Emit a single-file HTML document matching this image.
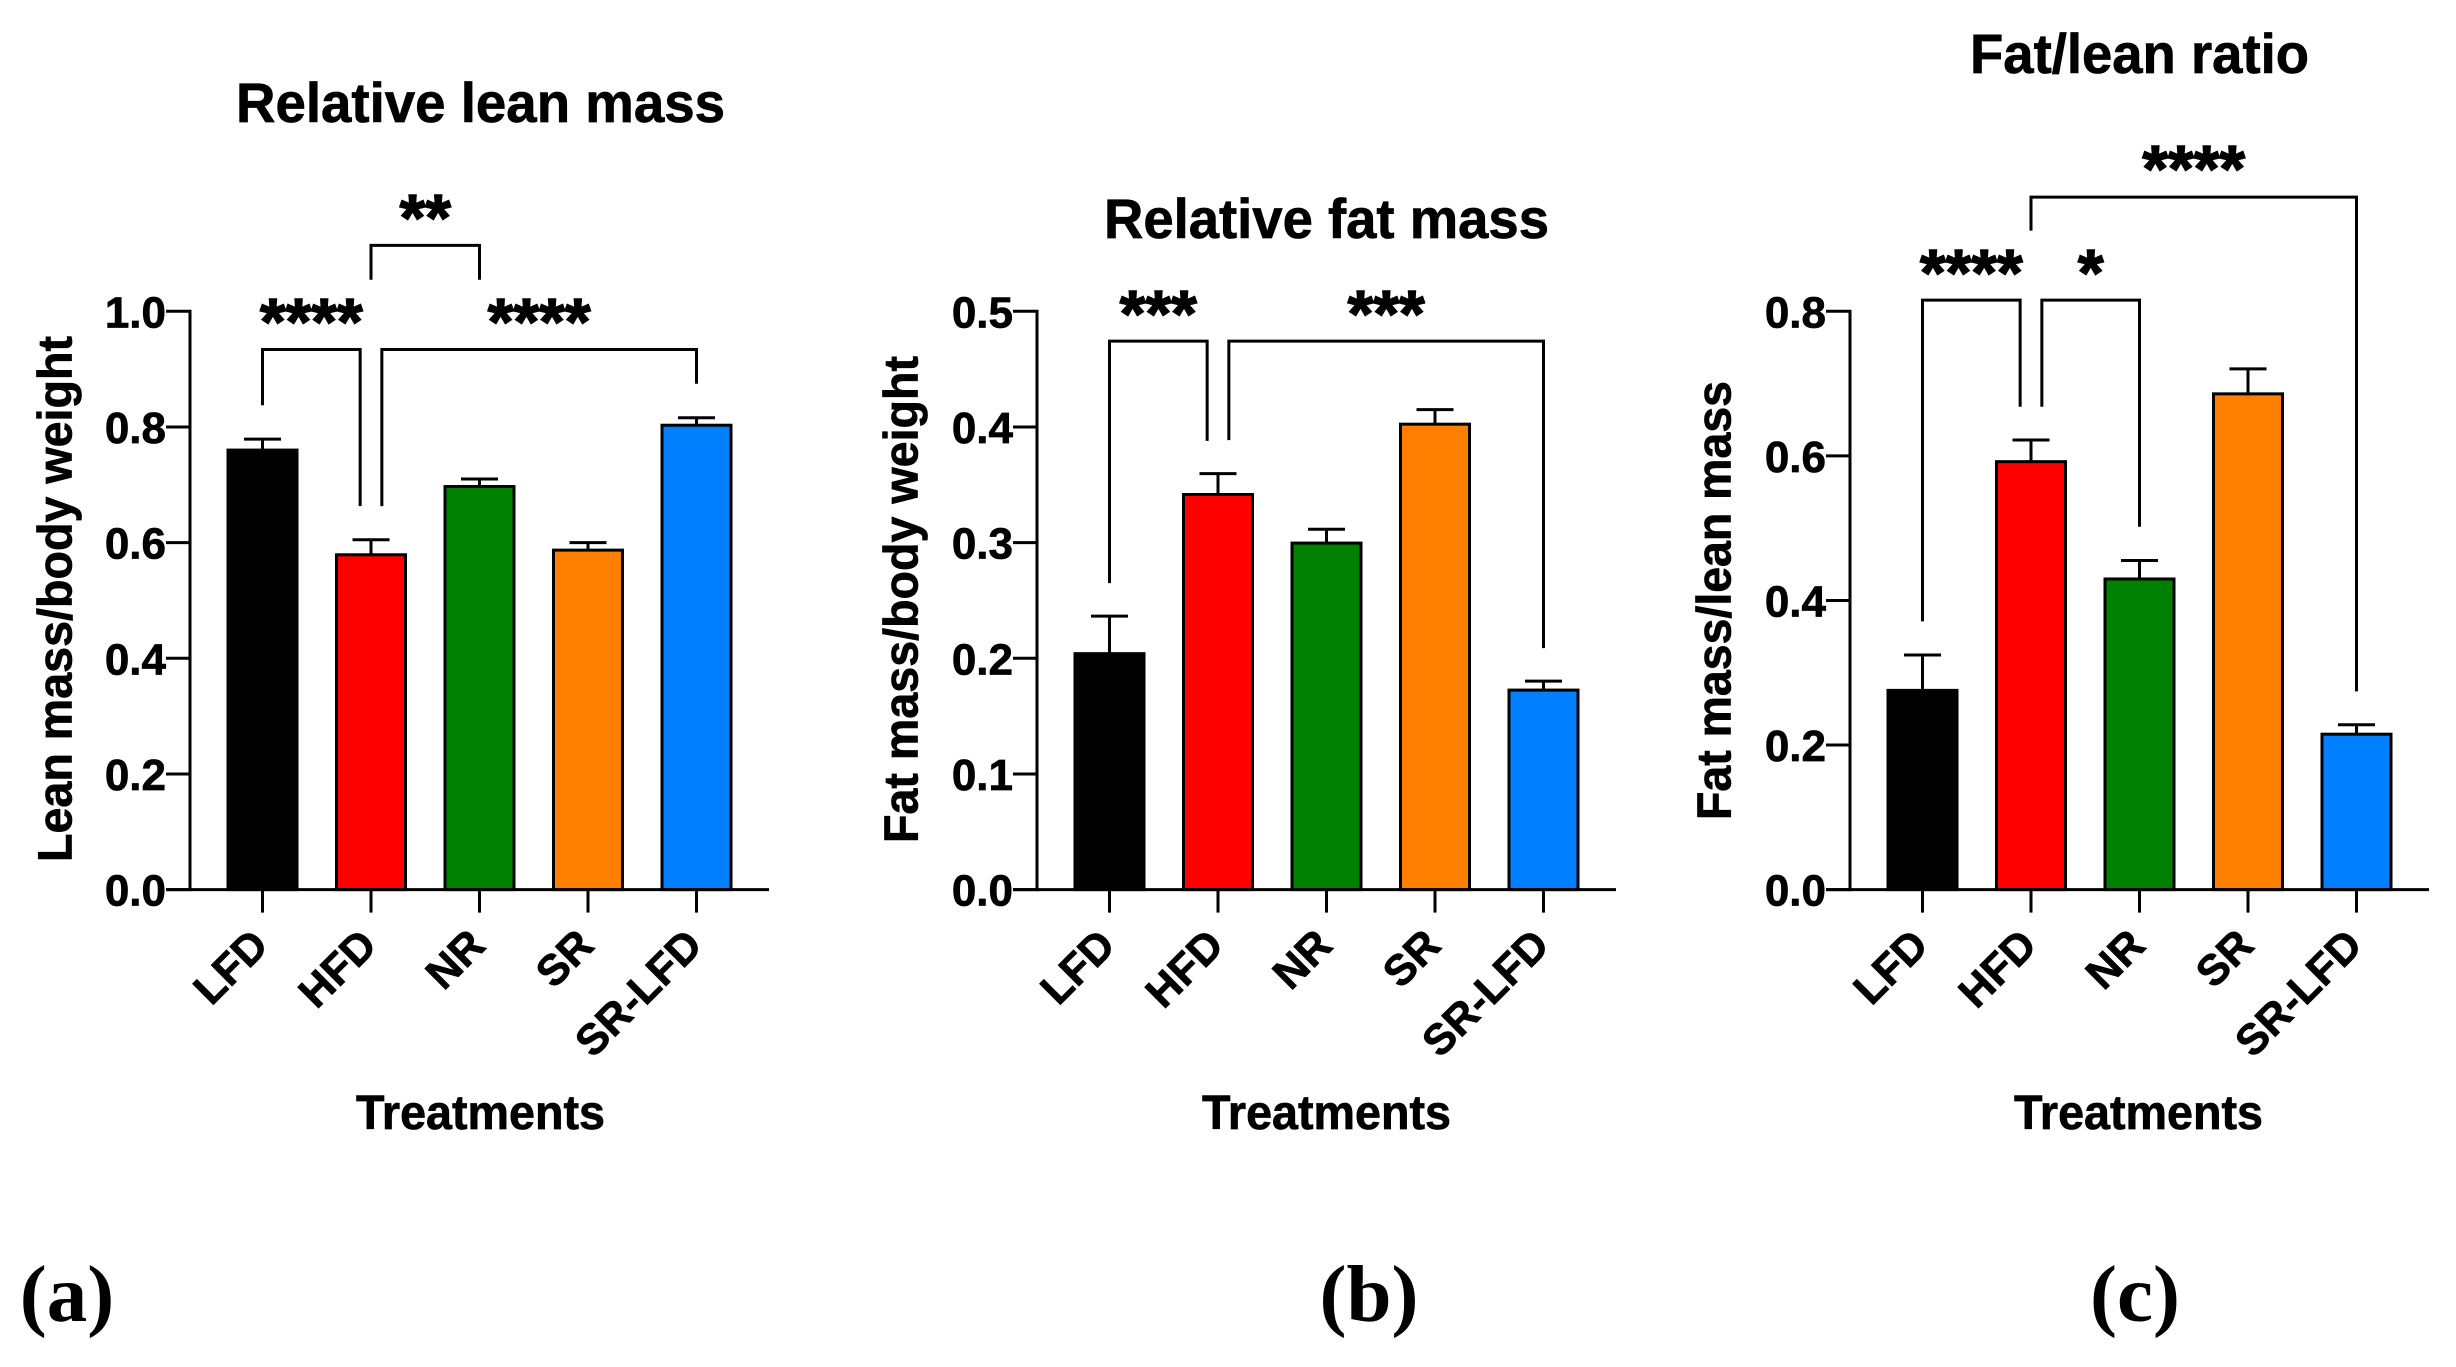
<!DOCTYPE html>
<html lang="en">
<head>
<meta charset="utf-8">
<title>Relative lean mass, fat mass and fat/lean ratio</title>
<style>
  html, body { margin: 0; padding: 0; background: #fff; }
  svg { display: block; }
  text { font-family: "Liberation Sans", Arial, sans-serif; font-weight: 700; fill: #000; stroke: #000; stroke-width: 0.7px; }
  .panel-letter { font-family: "Liberation Serif", "Times New Roman", serif; font-size: 81px; text-anchor: middle; stroke-width: 0; }
  .title { font-size: 56px; }
  .axis-title { font-size: 48px; }
</style>
</head>
<body>
<svg id="figure" xmlns="http://www.w3.org/2000/svg" width="2456" height="1367" viewBox="0 0 2456 1367">
  <rect x="0" y="0" width="2456" height="1367" fill="#ffffff"/>

  <g id="panel-a">
    <text class="title" x="236" y="122" textLength="489" lengthAdjust="spacingAndGlyphs">Relative lean mass</text>
    <text class="axis-title" transform="translate(71.5 862) rotate(-90)" x="0" y="0" textLength="526" lengthAdjust="spacingAndGlyphs">Lean mass/body weight</text>
    <text class="axis-title" x="356" y="1129" textLength="249" lengthAdjust="spacingAndGlyphs">Treatments</text>
    <text class="panel-letter" x="67" y="1321">(a)</text>
  </g>

  <g id="panel-b">
    <text class="title" x="1104" y="238" textLength="445" lengthAdjust="spacingAndGlyphs">Relative fat mass</text>
    <text class="axis-title" transform="translate(917.5 843) rotate(-90)" x="0" y="0" textLength="487" lengthAdjust="spacingAndGlyphs">Fat mass/body weight</text>
    <text class="axis-title" x="1202" y="1129" textLength="249" lengthAdjust="spacingAndGlyphs">Treatments</text>
    <text class="panel-letter" x="1369" y="1321">(b)</text>
  </g>

  <g id="panel-c">
    <text class="title" x="1970" y="73" textLength="339" lengthAdjust="spacingAndGlyphs">Fat/lean ratio</text>
    <text class="axis-title" transform="translate(1730.5 820) rotate(-90)" x="0" y="0" textLength="439" lengthAdjust="spacingAndGlyphs">Fat mass/lean mass</text>
    <text class="axis-title" x="2014" y="1129" textLength="249" lengthAdjust="spacingAndGlyphs">Treatments</text>
    <text class="panel-letter" x="2135" y="1321">(c)</text>
  </g>
</svg>

<script>
// ---- Data ----
const categories = ['LFD', 'HFD', 'NR', 'SR', 'SR-LFD'];

const leanValues = [0.760, 0.579, 0.697, 0.587, 0.803];
const leanErrors = [0.019, 0.026, 0.013, 0.013, 0.013];
const leanTickLabels = ['0.0', '0.2', '0.4', '0.6', '0.8', '1.0'];
const leanBrackets = [
  { from: 0, to: 0.9, top: 0.934, fromEnd: 0.8375, toEnd: 0.663, stars: '****', starLevel: 0.998 },
  { from: 1.1, to: 4, top: 0.934, fromEnd: 0.663, toEnd: 0.8747, stars: '****', starLevel: 0.998 },
  { from: 1, to: 2, top: 1.114, fromEnd: 1.0545, toEnd: 1.0545, stars: '**', starLevel: 1.178 }
];

const fatValues = [0.204, 0.3416, 0.2996, 0.4024, 0.1725];
const fatErrors = [0.0325, 0.018, 0.012, 0.0126, 0.0078];
const fatTickLabels = ['0.0', '0.1', '0.2', '0.3', '0.4', '0.5'];
const fatBrackets = [
  { from: 0, to: 0.9, top: 0.4742, fromEnd: 0.265, toEnd: 0.388, stars: '***', starLevel: 0.506 },
  { from: 1.1, to: 4, top: 0.4742, fromEnd: 0.3886, toEnd: 0.2088, stars: '***', starLevel: 0.506 }
];

const ratioValues = [0.2756, 0.592, 0.4297, 0.6858, 0.215];
const ratioErrors = [0.049, 0.030, 0.0255, 0.0345, 0.013];
const ratioTickLabels = ['0.0', '0.2', '0.4', '0.6', '0.8'];
const ratioBrackets = [
  { from: 0, to: 0.9, top: 0.8154, fromEnd: 0.371, toEnd: 0.668, stars: '****', starLevel: 0.8659 },
  { from: 1.1, to: 2, top: 0.8154, fromEnd: 0.668, toEnd: 0.5019, stars: '*', starLevel: 0.8659 },
  { from: 1, to: 4, top: 0.958, fromEnd: 0.9116, toEnd: 0.2742, stars: '****', starLevel: 1.0098 }
];

const barColors = ['#000000', '#ff0000', '#008000', '#ff8000', '#0080ff'];

// ---- Layout ----
const SVG_NS = 'http://www.w3.org/2000/svg';
const BASELINE_Y = 889.6;
const PLOT_HEIGHT = 578.3;
const CATEGORY_STEP = 108.5;
const FIRST_CATEGORY_OFFSET = 72.5;
const BAR_WIDTH = 69;
const CAP_WIDTH = 37;
const STROKE = 3;

function svgEl(parent, tag, attrs, text) {
  const node = document.createElementNS(SVG_NS, tag);
  for (const key in attrs) node.setAttribute(key, attrs[key]);
  if (text !== undefined) node.textContent = text;
  parent.appendChild(node);
  return node;
}

function drawPanel(cfg) {
  const group = document.getElementById(cfg.groupId);
  const xScale = i => cfg.axisX + FIRST_CATEGORY_OFFSET + i * CATEGORY_STEP;
  const yScale = v => BASELINE_Y - (v / cfg.yMax) * PLOT_HEIGHT;
  const line = { stroke: '#000', 'stroke-width': STROKE, fill: 'none' };

  // bars and error bars
  cfg.values.forEach((value, i) => {
    const cx = xScale(i);
    const errorTop = yScale(value + cfg.errors[i]);

    const stem = svgEl(group, 'path', Object.assign({
      d: 'M' + cx + ' ' + yScale(value) + 'V' + errorTop + 'M' + (cx - CAP_WIDTH / 2) + ' ' + errorTop + 'H' + (cx + CAP_WIDTH / 2)
    }, line));
    
    

    const top = yScale(value);
    const bar = svgEl(group, 'rect', {
      x: cx - BAR_WIDTH / 2, y: top, width: BAR_WIDTH, height: BASELINE_Y - top,
      fill: barColors[i], stroke: '#000', 'stroke-width': STROKE
    });
    
    
  });

  // y axis
  const yAxis = svgEl(group, 'path', Object.assign({
    d: 'M' + cfg.axisX + ' ' + (BASELINE_Y + STROKE / 2) + 'V' + yScale(cfg.yMax)
  }, line));
  
  

  cfg.tickLabels.forEach(label => {
    const y = yScale(parseFloat(label));
    const tick = svgEl(group, 'path', Object.assign({
      d: 'M' + (cfg.axisX - 24) + ' ' + y + 'H' + (cfg.axisX + STROKE / 2)
    }, line));
    
    

    const text = svgEl(group, 'text', {
      x: cfg.axisX - 24, y: y + 16, 'text-anchor': 'end', 'font-size': 44
    }, label);
    
    
  });

  // x axis
  const xAxis = svgEl(group, 'path', Object.assign({
    d: 'M' + (cfg.axisX - 24) + ' ' + BASELINE_Y + 'H' + (cfg.axisX + 579)
  }, line));
  
  

  categories.forEach((cat, i) => {
    const x = xScale(i);
    const tick = svgEl(group, 'path', Object.assign({
      d: 'M' + x + ' ' + BASELINE_Y + 'V' + (BASELINE_Y + 23)
    }, line));
    
    

    const text = svgEl(group, 'text', {
      transform: 'translate(' + (x + 8) + ' ' + (BASELINE_Y + 58) + ') rotate(-45)',
      'text-anchor': 'end', 'font-size': 43
    }, cat);
    
    
  });

  // significance brackets
  cfg.brackets.forEach((b, i) => {
    const x1 = xScale(b.from), x2 = xScale(b.to);
    const path = svgEl(group, 'path', Object.assign({
      d: 'M' + x1 + ' ' + yScale(b.fromEnd) + 'V' + yScale(b.top) + 'H' + x2 + 'V' + yScale(b.toEnd)
    }, line));
    
    

    const stars = svgEl(group, 'text', {
      x: (x1 + x2) / 2, y: yScale(b.starLevel) + 32, 'text-anchor': 'middle', 'font-size': 66,
      style: 'stroke-width:1.5px'
    }, b.stars);
    
    
  });
}

drawPanel({ groupId: 'panel-a', prefix: 'lean', axisX: 190, yMax: 1.0,
  values: leanValues, errors: leanErrors, tickLabels: leanTickLabels, brackets: leanBrackets });
drawPanel({ groupId: 'panel-b', prefix: 'fat', axisX: 1037, yMax: 0.5,
  values: fatValues, errors: fatErrors, tickLabels: fatTickLabels, brackets: fatBrackets });
drawPanel({ groupId: 'panel-c', prefix: 'ratio', axisX: 1850, yMax: 0.8,
  values: ratioValues, errors: ratioErrors, tickLabels: ratioTickLabels, brackets: ratioBrackets });
</script>
</body>
</html>
